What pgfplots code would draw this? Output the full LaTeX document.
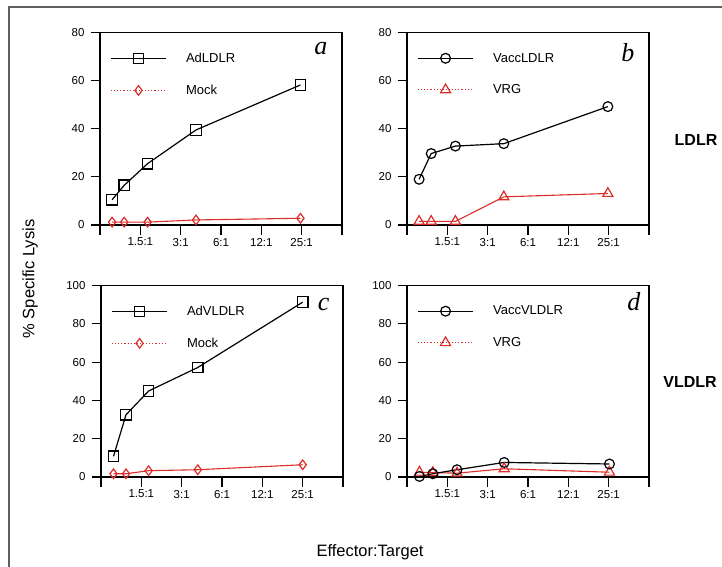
\documentclass[border=0pt]{standalone}
\usepackage{pgfplots}
\pgfplotsset{compat=1.18}
\usepackage{fontspec}
\setmainfont{Liberation Sans}
\newfontfamily\tnr{Liberation Serif}
\definecolor{myred}{RGB}{220,45,40}
\definecolor{framegray}{RGB}{95,95,95}

\pgfplotsset{
  panel/.style={
    scale only axis, width=242pt, height=192.5pt,
    xmin=0, xmax=6, xtick={0,1,2,3,4,5,6},
    xticklabels={,1.5:1,3:1,6:1,12:1,25:1,},
    ymin=0,
    axis line style={line width=1.1pt},
    every tick/.style={line width=1.1pt, black},
    tick align=outside, major tick length=9.5pt,
    xtick pos=bottom, ytick pos=left,
    tick label style={font=\fontsize{11.5}{13}\selectfont},
    yticklabel style={xshift=-2.5pt},
    /pgf/number format/assume math mode=true,
    legend cell align=left,
    legend style={draw=none, fill=none, anchor=north west,
      at={(axis description cs:0.03,0.915)},
      font=\fontsize{13}{15}\selectfont, row sep=17pt},
    legend image code/.code={\path[draw=none,fill=none] (0pt,-1pt) rectangle (73pt,1pt);\draw[mark repeat=2,mark phase=2,##1] plot coordinates {(0pt,0pt) (27.5pt,0pt) (55pt,0pt)};},
  },
  blk/.style={black, line width=1.2pt, mark options={fill=white, solid, line width=1.2pt}},
  redl/.style={myred, line width=1.1pt, mark options={fill=white, solid, line width=1.2pt}},
}

\begin{document}
\begin{tikzpicture}[x=1pt,y=1pt]
\useasboundingbox (0pt,0pt) rectangle (722pt,566pt);
\draw[framegray, line width=1.4pt] (9pt,-5pt) -- (9pt,559pt) -- (730pt,559pt);

% Panel a
\begin{axis}[panel, at={(100pt,341pt)}, anchor=south west, ymax=80, ytick={0,20,40,60,80}]
\addplot[redl, mark=diamond, mark size=4.8pt, forget plot] coordinates {(0.3,1.2) (0.6,1.2) (1.18,1.2) (2.38,2.1) (4.97,2.8)};
\addplot[blk, mark=square, mark size=5.3pt, forget plot] coordinates {(0.3,10.5) (0.6,16.5) (1.18,25.5) (2.38,39.5) (4.97,58.2)};
\addlegendimage{blk, mark=square, mark size=5.3pt}
\addlegendentry{AdLDLR}
\addlegendimage{myred, line width=1.1pt, dotted, mark=diamond, mark size=4.8pt, mark options={fill=white, solid, line width=1.2pt}}
\addlegendentry{Mock}
\end{axis}

% Panel b
\begin{axis}[panel, at={(407pt,341pt)}, anchor=south west, ymax=80, ytick={0,20,40,60,80}]
\addplot[redl, mark=triangle, mark size=5.8pt, forget plot] coordinates {(0.3,1.5) (0.6,1.5) (1.2,1.5) (2.4,11.7) (4.98,13.1)};
\addplot[blk, mark=o, mark size=4.9pt, forget plot] coordinates {(0.3,19) (0.6,29.7) (1.2,32.8) (2.4,33.8) (4.98,49.2)};
\addlegendimage{blk, mark=o, mark size=4.9pt}
\addlegendentry{VaccLDLR}
\addlegendimage{myred, line width=1.1pt, dotted, mark=triangle, mark size=5.8pt, mark options={fill=white, solid, line width=1.2pt}}
\addlegendentry{VRG}
\end{axis}

% Panel c
\begin{axis}[panel, at={(101pt,89pt)}, anchor=south west, height=191.5pt, ymax=100, ytick={0,20,40,60,80,100}]
\addplot[redl, mark=diamond, mark size=4.8pt, forget plot] coordinates {(0.31,1.7) (0.62,1.7) (1.18,3.3) (2.4,3.8) (5.0,6.4)};
\addplot[blk, mark=square, mark size=5.3pt, forget plot] coordinates {(0.31,10.8) (0.62,32.5) (1.18,44.9) (2.4,57.2) (5.0,91.3)};
\addlegendimage{blk, mark=square, mark size=5.3pt}
\addlegendentry{AdVLDLR}
\addlegendimage{myred, line width=1.1pt, dotted, mark=diamond, mark size=4.8pt, mark options={fill=white, solid, line width=1.2pt}}
\addlegendentry{Mock}
\end{axis}

% Panel d
\begin{axis}[panel, at={(407pt,89pt)}, anchor=south west, height=191.5pt, ymax=100, ytick={0,20,40,60,80,100}]
\addplot[redl, mark=triangle, mark size=5.8pt, forget plot] coordinates {(0.31,2.5) (0.64,2.3) (1.24,2.0) (2.41,4.3) (5.02,2.5)};
\addplot[blk, mark=o, mark size=4.9pt, forget plot] coordinates {(0.31,0.3) (0.64,1.7) (1.24,3.8) (2.41,7.6) (5.02,6.8)};
\addlegendimage{blk, mark=o, mark size=4.9pt}
\addlegendentry{VaccVLDLR}
\addlegendimage{myred, line width=1.1pt, dotted, mark=triangle, mark size=5.8pt, mark options={fill=white, solid, line width=1.2pt}}
\addlegendentry{VRG}
\end{axis}

% panel letters
\node[anchor=base east, font=\tnr\itshape\fontsize{26}{28}\selectfont] at (331pt,511pt) {a};
\node[anchor=base east, font=\tnr\itshape\fontsize{26}{28}\selectfont] at (638pt,504pt) {b};
\node[anchor=base east, font=\tnr\itshape\fontsize{26}{28}\selectfont] at (333pt,256pt) {c};
\node[anchor=base east, font=\tnr\itshape\fontsize{26}{28}\selectfont] at (644pt,256pt) {d};

% labels
\node[rotate=90, font=\fontsize{16.5}{18}\selectfont] at (30pt,287pt) {\% Specific Lysis};
\node[font=\fontsize{16.5}{18}\selectfont] at (370pt,14pt) {Effector:Target};
\node[font=\bfseries\fontsize{16}{18}\selectfont] at (696pt,426pt) {LDLR};
\node[font=\bfseries\fontsize{16}{18}\selectfont] at (690pt,184pt) {VLDLR};
\end{tikzpicture}
\end{document}
